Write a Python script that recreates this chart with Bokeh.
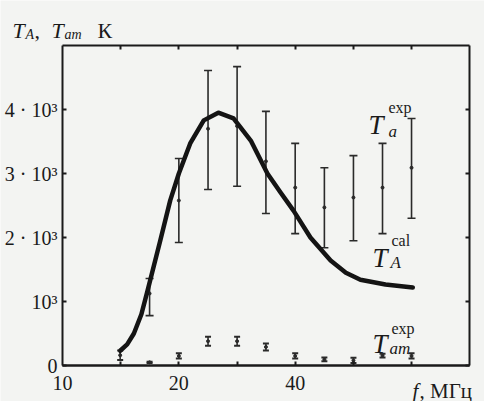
import math
from bokeh.plotting import figure
from bokeh.models import Range1d, FixedTicker, LinearAxis, LogAxis, Label, ColumnDataSource
from bokeh.embed import file_html
from bokeh.resources import INLINE

# ---- data ----
# calculated antenna temperature T_A^cal, K
cal_f = [14.1, 14.7, 15.3, 16.0, 16.6, 17.9, 19.0, 20.0, 21.4, 23.2, 25.3, 27.7, 30.7, 33.9, 36.7,
         39.6, 43.8, 49.4, 54.1, 59.0, 68.5, 80.6]
cal_T = [230, 330, 500, 800, 1170, 1950, 2580, 3000, 3470, 3830, 3950, 3860, 3515, 3000, 2700,
         2420, 2000, 1640, 1450, 1340, 1265, 1220]

# measured T_a^exp with error bars
fa = [16.8, 20.0, 23.8, 28.3, 33.6, 40.0, 47.6, 56.6, 67.3, 80.0]
Ta = [1125, 2578, 3700, 3740, 3190, 2780, 2470, 2625, 2780, 3090]
Ta_lo = [780, 1922, 2750, 2800, 2375, 2060, 1840, 1950, 2060, 2300]
Ta_hi = [1360, 3234, 4610, 4670, 3970, 3470, 3090, 3280, 3470, 3860]

# measured T_am^exp with error bars
fam = [14.1, 16.8, 20.0, 23.8, 28.3, 33.6, 40.0, 47.6, 56.6, 67.3, 80.0]
Tam = [160, 50, 150, 380, 380, 290, 150, 95, 80, 155, 150]
Tam_lo = [85, 40, 110, 310, 310, 235, 110, 65, 40, 125, 110]
Tam_hi = [235, 60, 190, 450, 450, 345, 190, 125, 120, 185, 190]

x_limits = (10, 113)
y_limits = (0, 5000)
x_minor_ticks = [14.142, 20.0, 28.284, 40.0, 56.569, 80.0]
x_label_ticks = [10, 20, 40]
x_tick_labels = ["10", "20", "40"]
y_ticks = [0, 1000, 2000, 3000, 4000]
y_tick_labels = ["0", "10³", "2 · 10³", "3 · 10³", "4 · 10³"]

FONT = "Liberation Serif"
INK = "#1a1a1a"
BG = "#f3f4f2"

# ---- layout: the frame fills the canvas, the boxed axes are placed with fixed_location ----
W, H = 484, 401
BOX_L, BOX_R, BOX_T, BOX_B = 62, 469, 45, 365   # pixel box of the data area inside the canvas

lx0, lx1 = math.log10(x_limits[0]), math.log10(x_limits[1])
kx = (BOX_R - BOX_L) / (lx1 - lx0)
x_start = 10 ** (lx0 - BOX_L / kx)
x_end = 10 ** (lx1 + (W - BOX_R) / kx)
ky = (BOX_B - BOX_T) / (y_limits[1] - y_limits[0])
y_start = y_limits[0] - (H - BOX_B) / ky
y_end = y_limits[1] + BOX_T / ky

p = figure(width=W, height=H, x_axis_type="log", title=None,
           x_range=Range1d(x_start, x_end), y_range=Range1d(y_start, y_end),
           output_backend="svg", toolbar_location=None,
           min_border_left=0, min_border_right=0, min_border_top=0, min_border_bottom=0)
p.background_fill_color = BG
p.border_fill_color = BG
p.grid.visible = False
p.outline_line_color = None


def style_axis(ax, show_labels, ticks_in=4):
    ax.axis_line_color = INK
    ax.axis_line_width = 2
    ax.major_tick_line_color = INK
    ax.major_tick_line_width = 2
    ax.major_tick_in = ticks_in
    ax.major_tick_out = 0
    ax.minor_tick_line_color = None
    ax.major_label_text_font = FONT
    ax.major_label_text_font_size = "20px"
    ax.major_label_text_color = INK if show_labels else None
    ax.major_label_standoff = 5


# bottom: labelled axis
xa = p.xaxis[0]
xa.ticker = FixedTicker(ticks=x_label_ticks)
xa.major_label_overrides = {t: l for t, l in zip(x_label_ticks, x_tick_labels)}
xa.fixed_location = y_limits[0]
xa.bounds = x_limits
style_axis(xa, True, ticks_in=0)
xa.major_label_standoff = 10

# bottom: tick-only axis
xb = LogAxis(ticker=FixedTicker(ticks=x_minor_ticks), fixed_location=y_limits[0], bounds=x_limits)
style_axis(xb, False)
p.add_layout(xb, "below")

# left: labelled axis
ya = p.yaxis[0]
ya.ticker = FixedTicker(ticks=y_ticks)
ya.major_label_overrides = {t: l for t, l in zip(y_ticks, y_tick_labels)}
ya.fixed_location = x_limits[0]
ya.bounds = y_limits
style_axis(ya, True)

# top and right: tick-only axes closing the box
top = LogAxis(ticker=FixedTicker(ticks=x_minor_ticks), fixed_location=y_limits[1], bounds=x_limits)
style_axis(top, False)
p.add_layout(top, "above")
right = LinearAxis(ticker=FixedTicker(ticks=y_ticks), fixed_location=x_limits[1], bounds=y_limits)
style_axis(right, False)
p.add_layout(right, "right")

# error bars T_a^exp
src_a = ColumnDataSource(dict(f=fa, T=Ta, lo=Ta_lo, hi=Ta_hi))
p.segment(x0="f", y0="lo", x1="f", y1="hi", source=src_a, line_color="#2a2a2a", line_width=1.6)
p.scatter(x="f", y="lo", source=src_a, marker="dash", size=8, line_color="#2a2a2a", line_width=1.6)
p.scatter(x="f", y="hi", source=src_a, marker="dash", size=8, line_color="#2a2a2a", line_width=1.6)
p.scatter(x="f", y="T", source=src_a, marker="circle", size=3, color="#2a2a2a")

# error bars T_am^exp
src_m = ColumnDataSource(dict(f=fam, T=Tam, lo=Tam_lo, hi=Tam_hi))
p.segment(x0="f", y0="lo", x1="f", y1="hi", source=src_m, line_color="#2a2a2a", line_width=1.6)
p.scatter(x="f", y="lo", source=src_m, marker="dash", size=6, line_color="#2a2a2a", line_width=2)
p.scatter(x="f", y="hi", source=src_m, marker="dash", size=6, line_color="#2a2a2a", line_width=2)
p.scatter(x="f", y="T", source=src_m, marker="circle", size=3, color="#2a2a2a")

# calculated curve
p.line(cal_f, cal_T, line_color="#141414", line_width=4.5, line_join="round", line_cap="round")


# ---- text labels placed in canvas pixels from the top-left corner ----
def lab(text, px, py, size, italic=False):
    p.add_layout(Label(x=px, y=H - py, x_units="screen", y_units="screen",
                       text=text, text_font=FONT, text_font_size=f"{size}px",
                       text_font_style="italic" if italic else "normal",
                       text_color=INK, text_baseline="alphabetic", text_align="left"))


# axis title top-left
lab("T", 12, 30, 22, True)
lab("A", 25, 34, 14, True)
lab(",", 34, 30, 22)
lab("T", 51, 30, 22, True)
lab("am", 64, 34, 14, True)
lab("К", 97, 30, 22)

# x axis title
lab("f", 412, 390, 21, True)
lab(", МГц", 419, 390, 21)

# series annotations
lab("T", 368, 124, 27, True)
lab("exp", 388, 107, 16)
lab("a", 388, 131, 17, True)

lab("T", 372, 257, 27, True)
lab("cal", 391, 240, 16)
lab("A", 390, 262, 17, True)

lab("T", 372, 343, 27, True)
lab("exp", 391, 328, 16)
lab("am", 389, 348, 17, True)

open("out.html", "w").write(file_html(p, INLINE))
